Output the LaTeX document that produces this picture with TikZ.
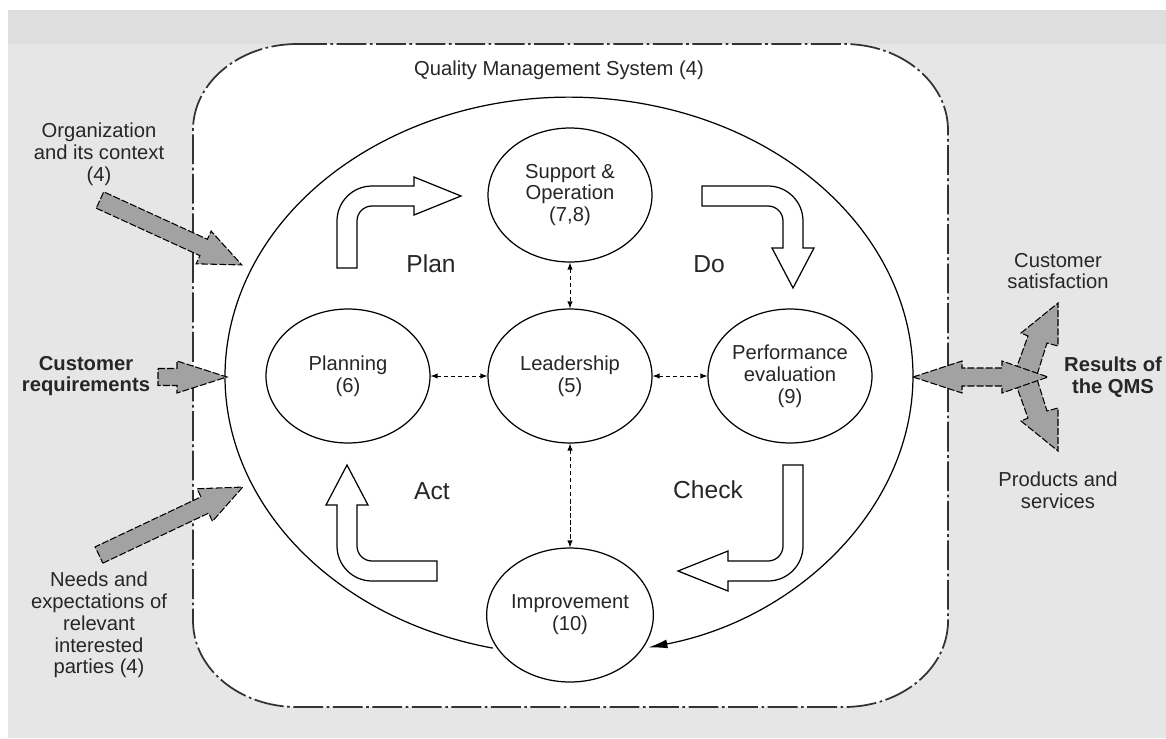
\documentclass[tikz,border=0pt]{standalone}
\usepackage{fontspec}
\setmainfont{Liberation Sans}
\usepackage{xcolor}
\usepackage{tikz}
\usetikzlibrary{shapes.geometric}
\usetikzlibrary{arrows.meta}
\definecolor{bggray}{HTML}{E6E6E6}
\definecolor{bandgray}{HTML}{DEDEDE}
\definecolor{arrgray}{HTML}{A2A2A2}
\definecolor{boxline}{HTML}{333333}

\begin{document}
\begin{tikzpicture}[x=0.02cm,y=0.02cm,
	every node/.style={font=\fontsize{11.5}{12.4}\selectfont,text=black!85,align=center},
	bold/.style={font=\fontsize{11.5}{12.4}\selectfont\bfseries},
	pdca/.style={font=\fontsize{14}{16}\selectfont},
	circ/.style={draw,ellipse,line width=0.7pt,minimum width=3.28cm,minimum height=2.68cm,inner sep=0pt},
	link/.style={latex-latex,thin,dash pattern=on 2.5pt off 1.5pt},
	hollow/.style={draw,fill=white,line width=0.7pt},
	garrow/.style={draw,fill=arrgray,line width=0.6pt,dash pattern=on 4pt off 1.2pt}]
		\useasboundingbox (0,0) rectangle (1166,-738);
		\fill[white] (0,0) rectangle (1166,-738);
		\fill[bggray] (8,-10) rectangle (1166,-738);
		\fill[bandgray] (8,-10) rectangle (1166,-44);

		% QMS box
		\draw[boxline,fill=white,line width=1pt,dash pattern=on 17pt off 2pt on 1.5pt off 2pt]
			(297,-44) -- (844,-44) arc[start angle=90,end angle=0,x radius=2.08cm,y radius=1.72cm]
			-- (948,-621) arc[start angle=0,end angle=-90,x radius=2.08cm,y radius=1.72cm]
			-- (297,-707) arc[start angle=270,end angle=180,x radius=2.08cm,y radius=1.72cm]
			-- (193,-130) arc[start angle=180,end angle=90,x radius=2.08cm,y radius=1.72cm] -- cycle;
		\node (qms) at (559,-70) {Quality Management System (4)};

		% cycle
		\coordinate (cycstart) at (492.8,-648.1);
		\draw[line width=0.7pt,-{Latex[length=11pt,width=5pt]}] (cycstart) arc[start angle=257.2,end angle=-76.7,x radius=6.88cm,y radius=5.58cm];

		\node[circ] (lead) at (570,-376) {Leadership\\(5)};
		\node[circ] (supp) at (570,-195) {Support \&\\Operation\\(7,8)};
		\node[circ] (plan) at (348,-376) {Planning\\(6)};
		\node[circ] (perf) at (790,-376) {Performance\\evaluation\\(9)};
		\node[circ] (impr) at (570,-615) {Improvement\\(10)};

		\draw[link] (supp) -- (lead);
		\draw[link] (plan) -- (lead);
		\draw[link] (lead) -- (perf);
		\draw[link] (lead) -- (impr);

		% PDCA arrows
		\draw[hollow] (337,-268) -- (337,-221) arc(180:90:0.7cm) -- (414,-186) -- (414,-177) -- (461,-196) -- (414,-215) -- (414,-206) -- (372,-206) arc(90:180:0.3cm) -- (357,-268) -- cycle;
		\draw[hollow] (702,-186) -- (768,-186) arc(90:0:0.7cm) -- (803,-248) -- (814,-248) -- (793,-288) -- (772,-248) -- (783,-248) -- (783,-221) arc(0:90:0.3cm) -- (702,-206) -- cycle;
		\draw[hollow] (783,-465) -- (803,-465) -- (803,-546) arc(0:-90:0.7cm) -- (728,-581) -- (728,-591) -- (678,-571) -- (728,-551) -- (728,-561) -- (768,-561) arc(-90:0:0.3cm) -- cycle;
		\draw[hollow] (437,-581) -- (372,-581) arc(270:180:0.7cm) -- (337,-505) -- (326,-505) -- (347,-465) -- (368,-505) -- (357,-505) -- (357,-546) arc(180:270:0.3cm) -- (437,-561) -- cycle;

		\node[pdca] (pl) at (431,-264) {Plan};
		\node[pdca] (do) at (709,-264) {Do};
		\node[pdca] (ck) at (708,-490) {Check};
		\node[pdca] (ac) at (432,-491) {Act};

		% inputs
		\node (org) at (99,-154) {Organization\\and its context\\(4)};
		\node[bold] (creq) at (86,-376) {Customer\\requirements};
		\node (needs) at (99,-625) {Needs and\\expectations of\\relevant\\interested\\parties (4)};
		\draw[garrow,shift={(100,-200)},rotate=-24.6] (0,-9) -- (114,-9) -- (114,-18) -- (156,0) -- (114,18) -- (114,9) -- (0,9) -- cycle;
		\draw[garrow] (158,-368.5) -- (177,-368.5) -- (177,-361) -- (227,-377) -- (177,-393) -- (177,-385.5) -- (158,-385.5) -- cycle;
		\draw[garrow,shift={(99,-555)},rotate=25.3] (0,-9) -- (117,-9) -- (117,-18) -- (159,0) -- (117,18) -- (117,9) -- (0,9) -- cycle;

		% outputs
		\draw[garrow] (1015,-372) -- (1028,-336) -- (1021,-333) -- (1058,-303) -- (1058,-346) -- (1047,-343) -- (1036,-378) -- cycle;
		\draw[garrow] (1015,-382) -- (1028,-418) -- (1021,-421) -- (1058,-451) -- (1058,-408) -- (1047,-411) -- (1036,-376) -- cycle;
		\draw[garrow] (913,-377) -- (962,-361) -- (962,-368) -- (1002,-368) -- (1002,-361) -- (1048,-377) -- (1002,-393) -- (1002,-386) -- (962,-386) -- (962,-393) -- cycle;
		\node (csat) at (1058,-271) {Customer\\satisfaction};
		\node[bold] (res) at (1113,-377) {Results of\\the QMS};
		\node (prod) at (1058,-490) {Products and\\services};
\end{tikzpicture}
\end{document}
